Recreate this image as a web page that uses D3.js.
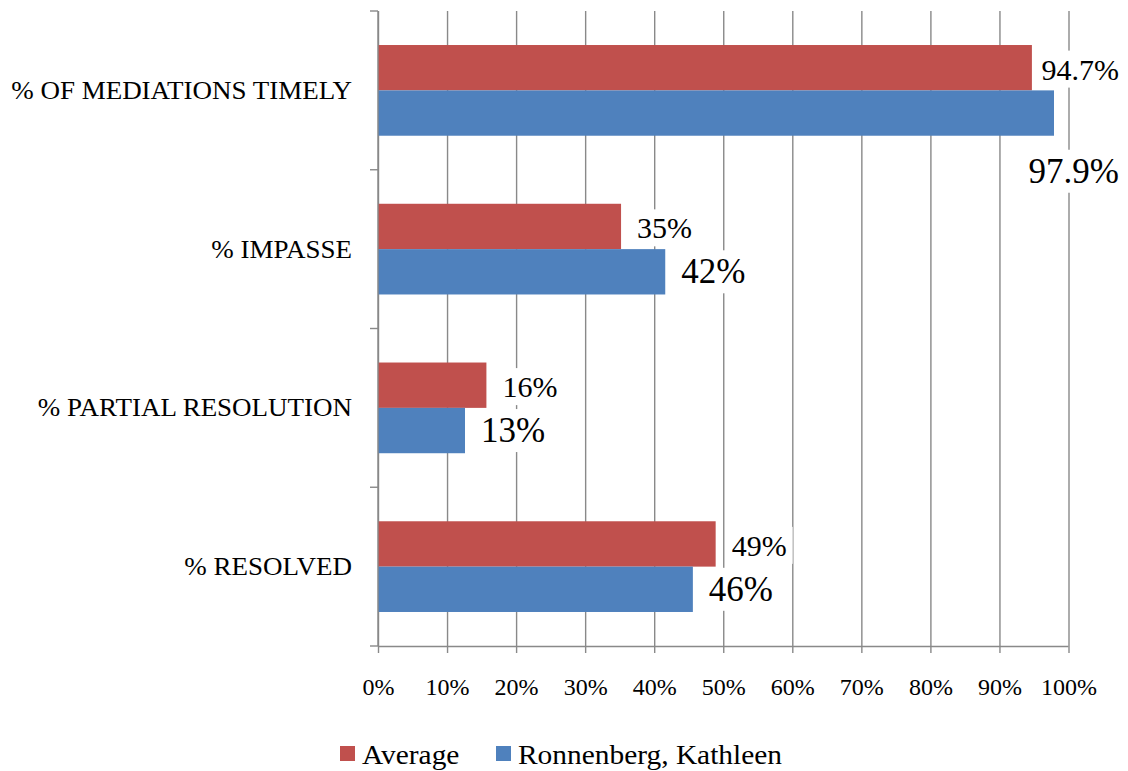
<!DOCTYPE html>
<html>
<head>
<meta charset="utf-8">
<script src="https://cdn.jsdelivr.net/npm/d3@7"></script>
<style>
  html, body { margin: 0; padding: 0; background: #fff; }
  svg { display: block; font-family: "Liberation Serif", "Times New Roman", serif; }
</style>
</head>
<body>
<svg id="chart" width="1128" height="771"></svg>
<script>
// ---- data ----
const categories = ["% OF MEDIATIONS TIMELY", "% IMPASSE", "% PARTIAL RESOLUTION", "% RESOLVED"];
const seriesNames = ["Average", "Ronnenberg, Kathleen"];
const averageValues = [94.7, 35.2, 15.7, 48.9];
const ronnenbergValues = [97.9, 41.6, 12.6, 45.6];
const averageLabels = ["94.7%", "35%", "16%", "49%"];
const ronnenbergLabels = ["97.9%", "42%", "13%", "46%"];
const xTicks = [0, 10, 20, 30, 40, 50, 60, 70, 80, 90, 100];
const xTickLabels = ["0%", "10%", "20%", "30%", "40%", "50%", "60%", "70%", "80%", "90%", "100%"];
const colors = ["#C0504D", "#4F81BD"];

(function () {
const svg = d3.select("#chart");
const pLeft = 378, pRight = 1068.5, pTop = 11, pBottom = 646;
const gridColor = "#898989";

const x = d3.scaleLinear().domain([0, 100]).range([pLeft, pRight]);
const y = d3.scaleBand().domain(categories).range([pTop, pBottom]).paddingInner(0).paddingOuter(0);
const y1 = d3.scaleBand().domain(seriesNames).range([0, y.bandwidth()]).paddingInner(0).paddingOuter(0.75);

// gridlines
const grid = svg.append("g").attr("transform", `translate(0,${pBottom})`)
  .call(d3.axisBottom(x).tickValues(xTicks).tickSize(-(pBottom - pTop)).tickFormat(""));
grid.select(".domain").remove();
grid.selectAll("line").attr("stroke", gridColor).attr("stroke-width", 1.4);

// bars
const rows = categories.map((c, i) => ({ cat: c, vals: [averageValues[i], ronnenbergValues[i]], labs: [averageLabels[i], ronnenbergLabels[i]] }));
const groups = svg.append("g").selectAll("g").data(rows).join("g")
  .attr("transform", d => `translate(0,${y(d.cat)})`);
groups.selectAll("rect").data(d => d.vals.map((v, k) => ({ v, k }))).join("rect")
  .attr("x", x(0))
  .attr("y", d => y1(seriesNames[d.k]))
  .attr("width", d => x(d.v) - x(0))
  .attr("height", y1.bandwidth())
  .attr("fill", d => colors[d.k]);

// x axis
const xAxis = svg.append("g").attr("transform", `translate(0,${pBottom})`)
  .call(d3.axisBottom(x).tickValues(xTicks).tickSize(7).tickFormat((d, i) => xTickLabels[i]));
xAxis.attr("font-family", null);
xAxis.select(".domain").attr("stroke", gridColor).attr("stroke-width", 1.4).attr("d", `M${pLeft},0.5H${pRight}`);
xAxis.selectAll("line").attr("stroke", gridColor).attr("stroke-width", 1.4);
xAxis.selectAll("text").attr("y", 49).attr("dy", 0).attr("fill", "#000")
  .style("font-size", "24px").style("font-family", "Liberation Serif");

// y axis
const yAxisG = svg.append("g");
yAxisG.append("line").attr("x1", pLeft).attr("x2", pLeft).attr("y1", pTop).attr("y2", pBottom)
  .attr("stroke", gridColor).attr("stroke-width", 1.4);
const bounds = categories.map(c => y(c)).concat([y(categories[categories.length - 1]) + y.bandwidth()]);
yAxisG.selectAll("line.tick").data(bounds).join("line").attr("class", "tick")
  .attr("x1", pLeft - 8).attr("x2", pLeft).attr("y1", d => d).attr("y2", d => d)
  .attr("stroke", gridColor).attr("stroke-width", 1.4);
yAxisG.selectAll("text").data(categories).join("text")
  .attr("transform", d => `translate(352,${y(d) + y.bandwidth() / 2}) scale(1.08,1)`)
  .attr("dy", "0.34em")
  .attr("text-anchor", "end").style("font-size", "25px").attr("fill", "#000")
  .text(d => d);

// data labels
const labelG = svg.append("g");
const fontSizes = [30, 35];
const dys = [11.9, 11.5];
const labelRight = 1119;
rows.forEach(r => {
  [0, 1].forEach(k => {
    const barTop = y(r.cat) + y1(seriesNames[k]);
    const cy = barTop + y1.bandwidth() / 2;
    const fs = fontSizes[k];
    const g = labelG.append("g");
    const rect = g.append("rect").attr("fill", "#fff");
    const t = g.append("text").style("font-size", fs + "px").attr("fill", "#000").text(r.labs[k]);
    let tx = x(r.vals[k]) + 16;
    let ty = cy + dys[k];
    const w = t.node().getComputedTextLength();
    if (tx + w > labelRight) {
      tx = labelRight - w;
      if (k === 1) ty = barTop + y1.bandwidth() + 47;
    }
    t.attr("x", tx).attr("y", ty);
    const bb = t.node().getBBox();
    rect.attr("x", bb.x - 6).attr("y", bb.y - 2).attr("width", bb.width + 12).attr("height", bb.height + 4);
  });
});

// legend
const legendItems = [{ name: seriesNames[0], x: 340 }, { name: seriesNames[1], x: 496 }];
const lg = svg.append("g");
legendItems.forEach((d, i) => {
  lg.append("rect").attr("x", d.x).attr("y", 746).attr("width", 15).attr("height", 15).attr("fill", colors[i]);
  lg.append("text").attr("transform", `translate(${d.x + 22},764) scale(1.11,1)`)
    .style("font-size", "26.5px").attr("fill", "#000").text(d.name);
});
})();
</script>
</body>
</html>
